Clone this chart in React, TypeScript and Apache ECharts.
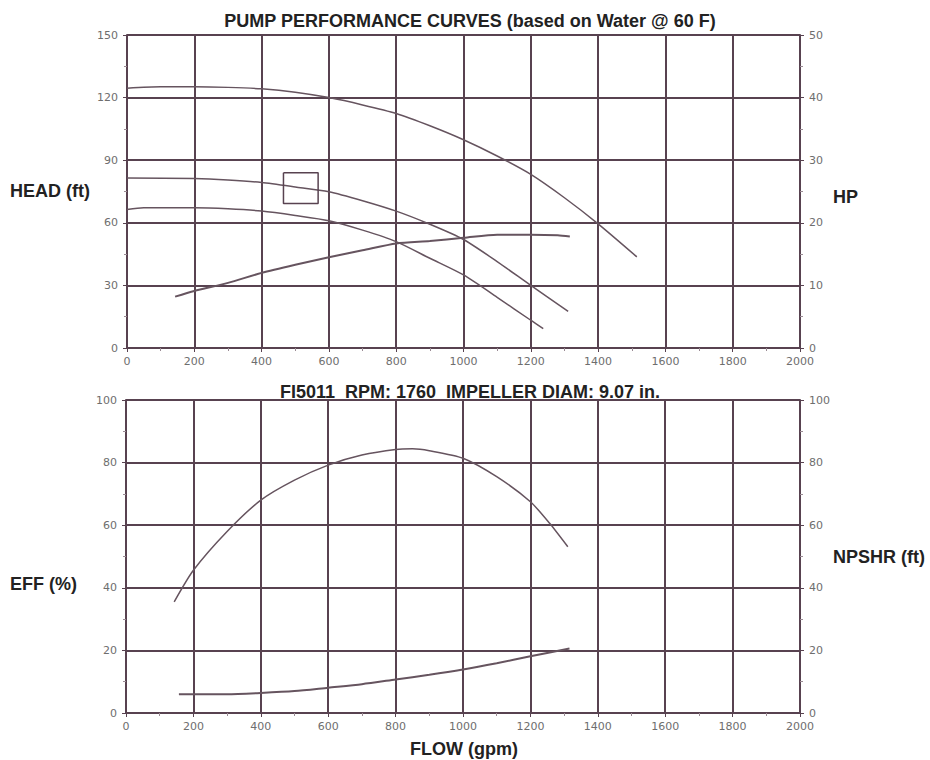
import React, { useEffect, useRef } from "react";
import * as echarts from "echarts";

// ---- Data ----
const xTicks = [0, 200, 400, 600, 800, 1000, 1200, 1400, 1600, 1800, 2000];

// Top chart: head curves (ft, left axis)
const headAFlow = [0, 100, 200, 300, 400, 500, 600, 700, 800, 900, 1000, 1100, 1200, 1300, 1400, 1515];
const headAVal = [124.5, 125.2, 125.2, 124.9, 124.2, 122.6, 120, 116.5, 112.4, 106.5, 99.8, 92, 83.2, 72, 59.5, 43.7];

const headBFlow = [0, 200, 300, 400, 500, 600, 700, 800, 900, 1000, 1100, 1200, 1311];
const headBVal = [81.5, 81.2, 80.5, 79.3, 77.2, 74.9, 70.6, 65.6, 59.3, 52, 41.4, 30, 17.6];

const headCFlow = [0, 50, 200, 300, 400, 500, 600, 700, 800, 900, 1000, 1100, 1200, 1237];
const headCVal = [66.4, 67.2, 67.2, 66.7, 65.6, 63.5, 61, 56.5, 51, 43, 35, 24.3, 13.3, 9.3];

// Top chart: horsepower curve (HP, right axis)
const hpFlow = [143, 200, 300, 400, 500, 600, 700, 800, 900, 1000, 1100, 1200, 1280, 1316];
const hpVal = [8.2, 9.1, 10.4, 12, 13.3, 14.5, 15.6, 16.7, 17.1, 17.6, 18.1, 18.1, 18, 17.8];

// Operating-point box (flow, head)
const boxFlow = [465, 568, 568, 465, 465];
const boxHead = [84, 84, 69.3, 69.3, 84];

// Bottom chart: efficiency (%) and NPSHR (ft)
const effFlow = [143, 200, 300, 400, 500, 600, 700, 800, 850, 900, 1000, 1100, 1200, 1257, 1311];
const effVal = [35.5, 45.6, 58, 68, 74.4, 79.2, 82.4, 84.2, 84.4, 83.8, 81.4, 75.5, 67.5, 60.6, 53.1];

const npshFlow = [157, 200, 300, 400, 500, 600, 700, 800, 900, 1000, 1100, 1200, 1316];
const npshVal = [6.0, 6.0, 6.0, 6.4, 7.0, 8.1, 9.2, 10.7, 12.2, 13.9, 15.9, 18.1, 20.6];

const GRID = "#584250";
const CURVE = "#66545f";
const LABEL = "#6e6e6e";
const FONT = "'Liberation Sans', Arial, sans-serif";
const TICKFONT = "'DejaVu Sans', sans-serif";

const zip = (xs: number[], ys: number[]) => xs.map((x, i) => [x, ys[i]]);

function xAxisCfg(gridIndex: number) {
  return {
    type: "value",
    gridIndex,
    min: xTicks[0],
    max: xTicks[xTicks.length - 1],
    interval: 200,
    axisLine: { show: true, lineStyle: { color: GRID, width: 2 } },
    axisTick: { show: true, length: 4, lineStyle: { color: GRID, width: 1 } },
    minorTick: { show: true, splitNumber: 2, length: 3, lineStyle: { color: "#9a8a94" } },
    axisLabel: { color: LABEL, fontSize: 11, fontFamily: TICKFONT, margin: 8, formatter: (v: number) => String(v) },
    splitLine: { show: true, lineStyle: { color: GRID, width: 2 } },
  };
}

function yAxisCfg(gridIndex: number, position: string, max: number, interval: number, split: boolean) {
  return {
    type: "value",
    gridIndex,
    position,
    min: 0,
    max,
    interval,
    axisLine: { show: true, lineStyle: { color: GRID, width: 2 } },
    axisTick: { show: true, length: 4, lineStyle: { color: GRID, width: 1 } },
    minorTick: { show: true, splitNumber: 2, length: 3, lineStyle: { color: "#9a8a94" } },
    axisLabel: { color: LABEL, fontSize: 11, fontFamily: TICKFONT, margin: 9, formatter: (v: number) => String(v) },
    splitLine: { show: split, lineStyle: { color: GRID, width: 2 } },
  };
}

function lineSeries(name: string, xAxisIndex: number, yAxisIndex: number, data: number[][], width = 1.5) {
  return {
    name,
    type: "line",
    xAxisIndex,
    yAxisIndex,
    data,
    showSymbol: false,
    smooth: 0.25,
    lineStyle: { color: CURVE, width },
    z: 5,
  };
}

function label(text: string, x: number, y: number, align = "left") {
  return {
    type: "text",
    x,
    y,
    style: {
      text,
      font: `bold 18px ${FONT}`,
      fill: "#222",
      align,
      verticalAlign: "middle",
      textAlign: align,
      textVerticalAlign: "middle",
    },
  };
}

export default function App() {
  const ref = useRef<HTMLDivElement>(null);

  useEffect(() => {
    if (!ref.current) return;
    const chart = echarts.init(ref.current, undefined, { renderer: "svg" });
    const bold = { fontFamily: FONT, fontWeight: "bold", fontSize: 18, color: "#222" };
    chart.setOption({
      animation: false,
      backgroundColor: "#ffffff",
      title: [
        {
          text: "PUMP PERFORMANCE CURVES (based on Water @ 60 F)",
          left: 465,
          top: 7,
          textAlign: "center",
          textStyle: bold,
        },
        {
          text: "FI5011  RPM: 1760  IMPELLER DIAM: 9.07 in.",
          left: 465,
          top: 378,
          textAlign: "center",
          textStyle: bold,
        },
      ],
      grid: [
        { left: 127, top: 35, width: 673, height: 313 },
        { left: 126, top: 400, width: 674, height: 313 },
      ],
      xAxis: [xAxisCfg(0), xAxisCfg(1)],
      yAxis: [
        yAxisCfg(0, "left", 150, 30, true),
        yAxisCfg(0, "right", 50, 10, false),
        yAxisCfg(1, "left", 100, 20, true),
        yAxisCfg(1, "right", 100, 20, false),
      ],
      graphic: [
        label("HEAD (ft)", 10, 191),
        label("HP", 833, 197),
        label("EFF (%)", 10, 584),
        label("NPSHR (ft)", 833, 557),
        label("FLOW (gpm)", 464, 749, "center"),
      ],
      series: [
        lineSeries("Head A", 0, 0, zip(headAFlow, headAVal)),
        lineSeries("Head B", 0, 0, zip(headBFlow, headBVal)),
        lineSeries("Head C", 0, 0, zip(headCFlow, headCVal)),
        lineSeries("HP", 0, 1, zip(hpFlow, hpVal), 2),
        {
          name: "Box",
          type: "line",
          xAxisIndex: 0,
          yAxisIndex: 0,
          data: zip(boxFlow, boxHead),
          showSymbol: false,
          lineStyle: { color: GRID, width: 1.5 },
          z: 5,
        },
        lineSeries("Efficiency", 1, 2, zip(effFlow, effVal)),
        lineSeries("NPSHR", 1, 3, zip(npshFlow, npshVal), 2),
      ],
    });
    return () => chart.dispose();
  }, []);

  return (
    <div
      ref={ref}
      style={{ position: "fixed", left: 0, top: 0, width: 930, height: 760, background: "#fff" }}
    />
  );
}
